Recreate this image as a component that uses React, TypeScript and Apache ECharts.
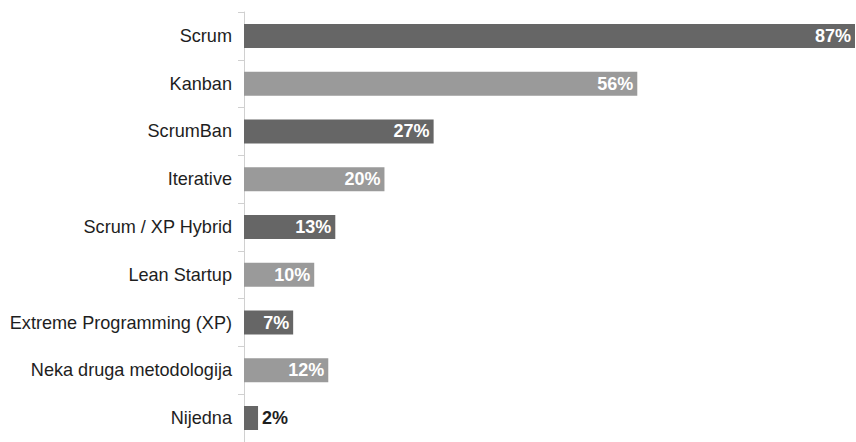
import React, { useEffect, useRef } from "react";
import * as echarts from "echarts";

const categories = [
  "Scrum",
  "Kanban",
  "ScrumBan",
  "Iterative",
  "Scrum / XP Hybrid",
  "Lean Startup",
  "Extreme Programming (XP)",
  "Neka druga metodologija",
  "Nijedna",
];
const values = [87, 56, 27, 20, 13, 10, 7, 12, 2];
const barColors = ["#666666", "#9a9a9a"];

export default function App() {
  const ref = useRef<HTMLDivElement>(null);
  useEffect(() => {
    if (!ref.current) return;
    const chart = echarts.init(ref.current, null, { renderer: "svg" });
    const font = "'Liberation Sans', Arial, sans-serif";
    chart.setOption({
      animation: false,
      grid: { left: 244, right: 1, top: 12, bottom: -4, containLabel: false },
      xAxis: {
        type: "value",
        min: 0,
        max: 87,
        show: false,
      },
      yAxis: {
        type: "category",
        data: categories,
        inverse: true,
        axisLine: { show: true, lineStyle: { color: "#d0d0d0", width: 1 } },
        axisTick: { show: true, length: 6, lineStyle: { color: "#d0d0d0" } },
        axisLabel: {
          margin: 12,
          color: "#1e1e1e",
          fontSize: 18.1,
          fontFamily: font,
        },
      },
      series: [
        {
          type: "bar",
          barWidth: 24,
          data: values.map((v, i) => {
            const item: any = {
              value: v,
              itemStyle: { color: barColors[i % 2] },
            };
            if (v < 5) {
              item.label = { position: "right", color: "#1e1e1e", distance: 4 };
            }
            return item;
          }),
          label: {
            show: true,
            position: "insideRight",
            distance: 4,
            formatter: (p: any) => p.value + "%",
            color: "#ffffff",
            fontWeight: "bold",
            fontSize: 18,
            fontFamily: font,
          },
        },
      ],
    });
    return () => chart.dispose();
  }, []);
  return (
    <div
      ref={ref}
      style={{ position: "absolute", left: 0, top: 0, width: 856, height: 442 }}
    />
  );
}
